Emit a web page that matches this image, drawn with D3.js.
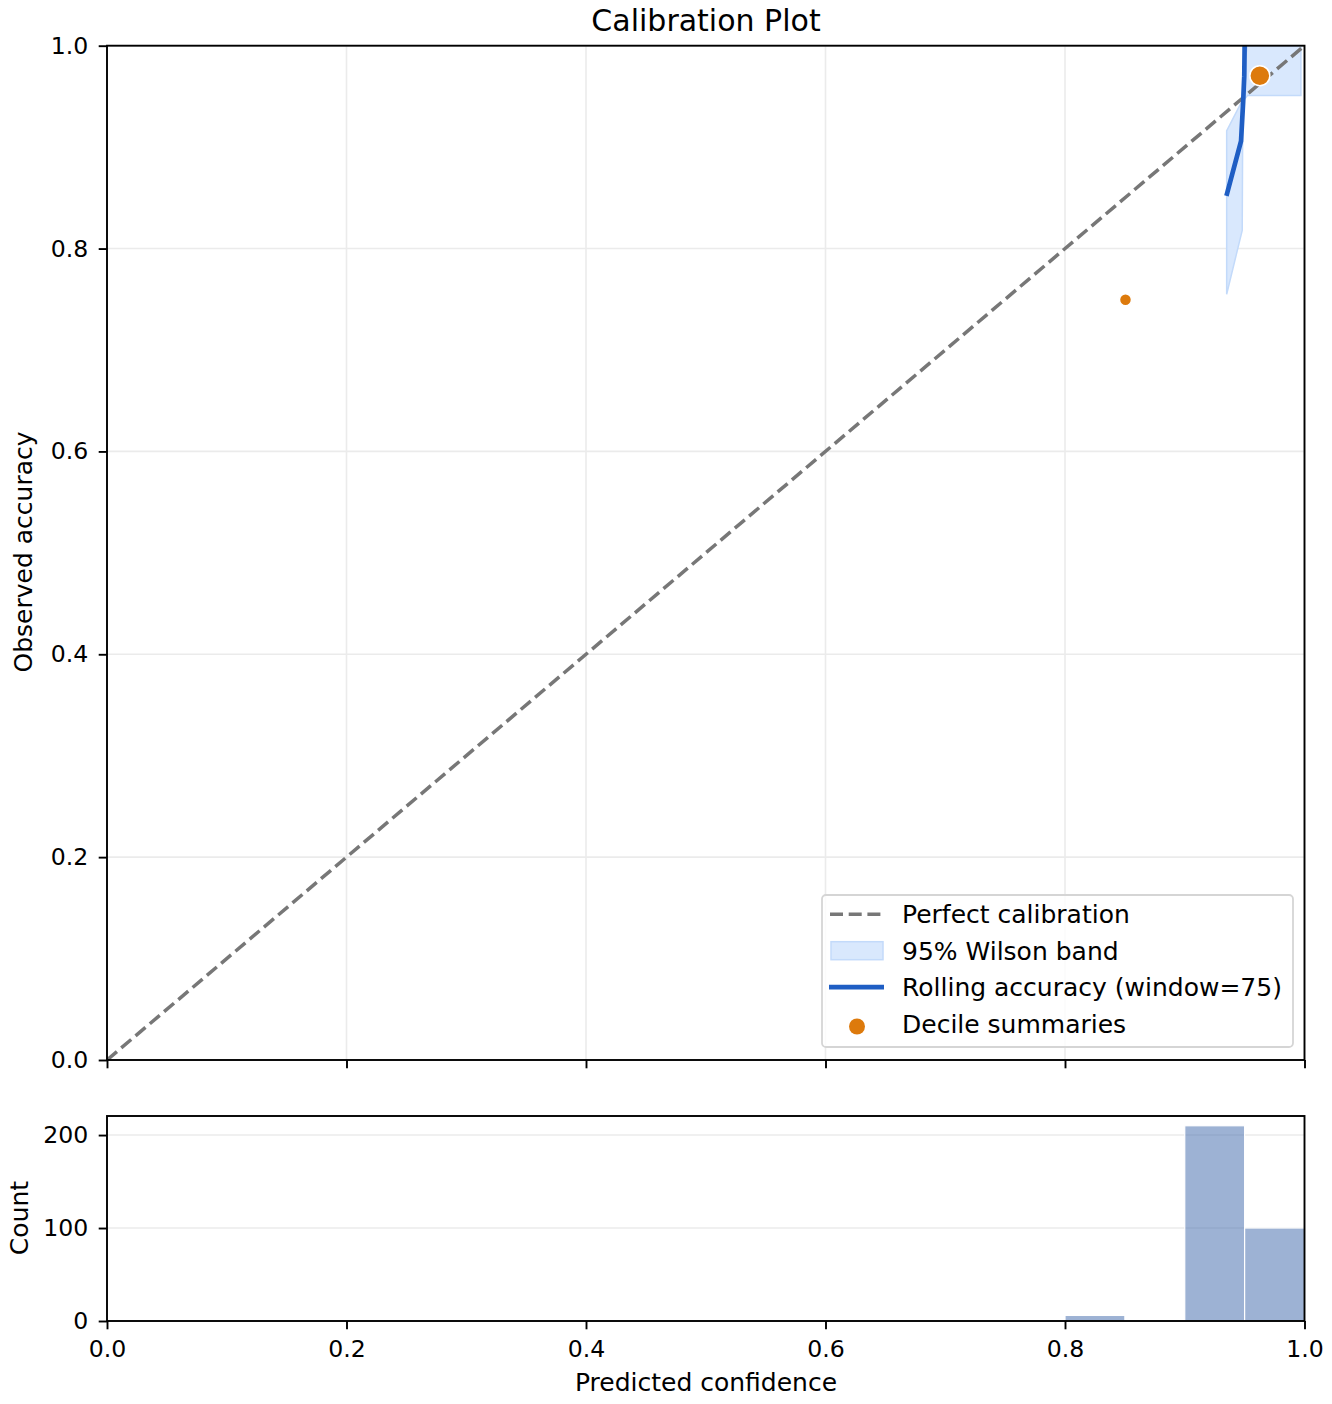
<!DOCTYPE html>
<html>
<head>
<meta charset="utf-8">
<script src="https://cdn.jsdelivr.net/npm/d3@7"></script>
<style>
  body { margin: 0; background: #fff; }
  text { font-family: "DejaVu Sans", sans-serif; fill: #000; }
</style>
</head>
<body>
<div id="chart"></div>
<script>
// data
const tickValues = [0, 0.2, 0.4, 0.6, 0.8, 1.0];
const countTicks = [0, 100, 200];

// rolling accuracy (window=75), sorted by confidence
const lineConf = [0.9348, 0.947, 0.9488, 0.9497, 0.950];
const lineAcc  = [0.852, 0.906, 0.945, 0.97, 1.0];

// 95% Wilson band
const bandConf = [0.935, 0.948, 0.9485, 0.9525, 0.997];
const bandLo   = [0.755, 0.818, 0.945, 0.951, 0.951];
const bandHi   = [0.916, 0.946, 0.975, 1.0, 1.0];

// decile summaries
const decileConf  = [0.8505, 0.9627];
const decileAcc   = [0.7495, 0.9704];
const decileCount = [6, 309];

// histogram, 20 bins of width 0.05
const histCounts = [0,0,0,0,0,0,0,0,0,0,0,0,0,0,0,0,6,0,210,100];

const legendLabels = ["Perfect calibration", "95% Wilson band", "Rolling accuracy (window=75)", "Decile summaries"];

const W = 1332, H = 1404;
const fs = 23.6;   // tick labels
const fl = 25;     // labels, legend
const mainL = 107, mainR = 1304.5, mainT = 45.7, mainB = 1060;
const histT = 1116, histB = 1321;

const svg = d3.select("#chart").append("svg")
  .attr("width", W).attr("height", H)
  .attr("viewBox", [0, 0, W, H]);

const x = d3.scaleLinear().domain([0, 1]).range([mainL, mainR]);
const y = d3.scaleLinear().domain([0, 1]).range([mainB, mainT]);
const yh = d3.scaleLinear().domain([0, 210 * 1.05]).range([histB, histT]);

svg.append("defs").append("clipPath").attr("id", "clipMain")
  .append("rect").attr("x", mainL).attr("y", mainT)
  .attr("width", mainR - mainL).attr("height", mainB - mainT);

const main = svg.append("g");

// grid
main.append("g").selectAll("line").data(tickValues).join("line")
  .attr("x1", d => x(d)).attr("x2", d => x(d))
  .attr("y1", mainT).attr("y2", mainB)
  .attr("stroke", "#ebebeb").attr("stroke-width", 1.6);
main.append("g").selectAll("line").data(tickValues).join("line")
  .attr("y1", d => y(d)).attr("y2", d => y(d))
  .attr("x1", mainL).attr("x2", mainR)
  .attr("stroke", "#ebebeb").attr("stroke-width", 1.6);

const plot = main.append("g").attr("clip-path", "url(#clipMain)");

// band
const band = bandConf.map((c, i) => ({c, lo: bandLo[i], hi: bandHi[i]}));
plot.append("path").datum(band)
  .attr("fill", "#d9e8fd")
  .attr("stroke", "#c3dafa").attr("stroke-width", 1.5)
  .attr("d", d3.area().x(d => x(d.c)).y0(d => y(d.lo)).y1(d => y(d.hi)));

// perfect calibration
plot.append("line")
  .attr("x1", x(0)).attr("y1", y(0)).attr("x2", x(1)).attr("y2", y(1))
  .attr("stroke", "#777").attr("stroke-width", 3.5)
  .attr("stroke-dasharray", "13,5.7");

// rolling accuracy
const roll = lineConf.map((c, i) => ({c, a: lineAcc[i]}));
plot.append("path").datum(roll)
  .attr("fill", "none").attr("stroke", "#1f5ec4").attr("stroke-width", 4.7)
  .attr("d", d3.line().x(d => x(d.c)).y(d => y(d.a)));

// deciles, marker area grows with count
const rScale = d3.scaleLinear().domain([6, 309]).range([36, 100]);
main.append("g").selectAll("circle")
  .data(decileConf.map((c, i) => ({c, a: decileAcc[i], n: decileCount[i]})))
  .join("circle")
  .attr("cx", d => x(d.c)).attr("cy", d => y(d.a))
  .attr("r", d => Math.sqrt(rScale(d.n)))
  .attr("fill", "#dd7a0c").attr("stroke", "#fff").attr("stroke-width", 1.5);

// main frame
main.append("rect").attr("x", mainL).attr("y", mainT)
  .attr("width", mainR - mainL).attr("height", mainB - mainT)
  .attr("fill", "none").attr("stroke", "#000").attr("stroke-width", 1.9);

// main axes
svg.append("g").attr("transform", `translate(${mainL},0)`)
  .call(d3.axisLeft(y).tickValues(tickValues).tickFormat(d3.format(".1f")).tickSizeOuter(0).tickSize(8.3).tickPadding(10.5));
svg.append("g").attr("transform", `translate(0,${mainB})`)
  .call(d3.axisBottom(x).tickValues(tickValues).tickFormat("").tickSizeOuter(0).tickSize(8.3));

// histogram
const hist = svg.append("g");
hist.append("g").selectAll("line").data(countTicks).join("line")
  .attr("y1", d => yh(d)).attr("y2", d => yh(d))
  .attr("x1", mainL).attr("x2", mainR)
  .attr("stroke", "#ebebeb").attr("stroke-width", 1.6);

const binW = 0.05;
hist.append("g").selectAll("rect")
  .data(histCounts.map((n, i) => ({x0: i * binW, n})).filter(d => d.n > 0))
  .join("rect")
  .attr("x", d => x(d.x0)).attr("width", d => x(d.x0 + binW) - x(d.x0))
  .attr("y", d => yh(d.n)).attr("height", d => yh(0) - yh(d.n))
  .attr("fill", "#4C72B0").attr("fill-opacity", 0.55)
  .attr("stroke", "#fff").attr("stroke-width", 1.2);

hist.append("rect").attr("x", mainL).attr("y", histT)
  .attr("width", mainR - mainL).attr("height", histB - histT)
  .attr("fill", "none").attr("stroke", "#000").attr("stroke-width", 1.9);

svg.append("g").attr("transform", `translate(${mainL},0)`)
  .call(d3.axisLeft(yh).tickValues(countTicks).tickSizeOuter(0).tickSize(8.3).tickPadding(10.5));
svg.append("g").attr("transform", `translate(0,${histB})`)
  .call(d3.axisBottom(x).tickValues(tickValues).tickFormat(d3.format(".1f")).tickSizeOuter(0).tickSize(8.3).tickPadding(10.8));

svg.selectAll(".domain").remove();
svg.selectAll(".tick line").attr("stroke", "#000").attr("stroke-width", 1.9);
svg.selectAll(".tick text").attr("font-size", fs).attr("font-family", "DejaVu Sans").attr("fill", "#000");

// labels
svg.append("text").attr("x", 706).attr("y", 31).attr("text-anchor", "middle")
  .attr("font-size", 30).text("Calibration Plot");
svg.append("text").attr("transform", "translate(32,552) rotate(-90)")
  .attr("text-anchor", "middle").attr("font-size", fl).text("Observed accuracy");
svg.append("text").attr("transform", "translate(28,1218) rotate(-90)")
  .attr("text-anchor", "middle").attr("font-size", fl).text("Count");
svg.append("text").attr("x", 706).attr("y", 1391).attr("text-anchor", "middle")
  .attr("font-size", fl).text("Predicted confidence");

// legend
const lg = svg.append("g").attr("transform", "translate(822,895)");
lg.append("rect").attr("width", 471).attr("height", 152).attr("rx", 4)
  .attr("fill", "#fff").attr("fill-opacity", 0.8)
  .attr("stroke", "#d5d5d5").attr("stroke-width", 1.8);
const rowY = i => 19.3 + i * 36.4;
lg.append("line").attr("x1", 8).attr("x2", 61).attr("y1", rowY(0)).attr("y2", rowY(0))
  .attr("stroke", "#777").attr("stroke-width", 3.5).attr("stroke-dasharray", "13,5.7");
lg.append("rect").attr("x", 9).attr("y", rowY(1) - 9).attr("width", 52).attr("height", 18)
  .attr("fill", "#d9e8fd").attr("stroke", "#c3dafa").attr("stroke-width", 1.5);
lg.append("line").attr("x1", 7).attr("x2", 62).attr("y1", rowY(2)).attr("y2", rowY(2))
  .attr("stroke", "#1f5ec4").attr("stroke-width", 4.7);
lg.append("circle").attr("cx", 35).attr("cy", rowY(3) + 3).attr("r", 8)
  .attr("fill", "#dd7a0c");
lg.selectAll("text.lbl").data(legendLabels).join("text")
  .attr("class", "lbl")
  .attr("x", 80).attr("y", (d, i) => rowY(i) + 9)
  .attr("font-size", fl).text(d => d);
</script>
</body>
</html>
